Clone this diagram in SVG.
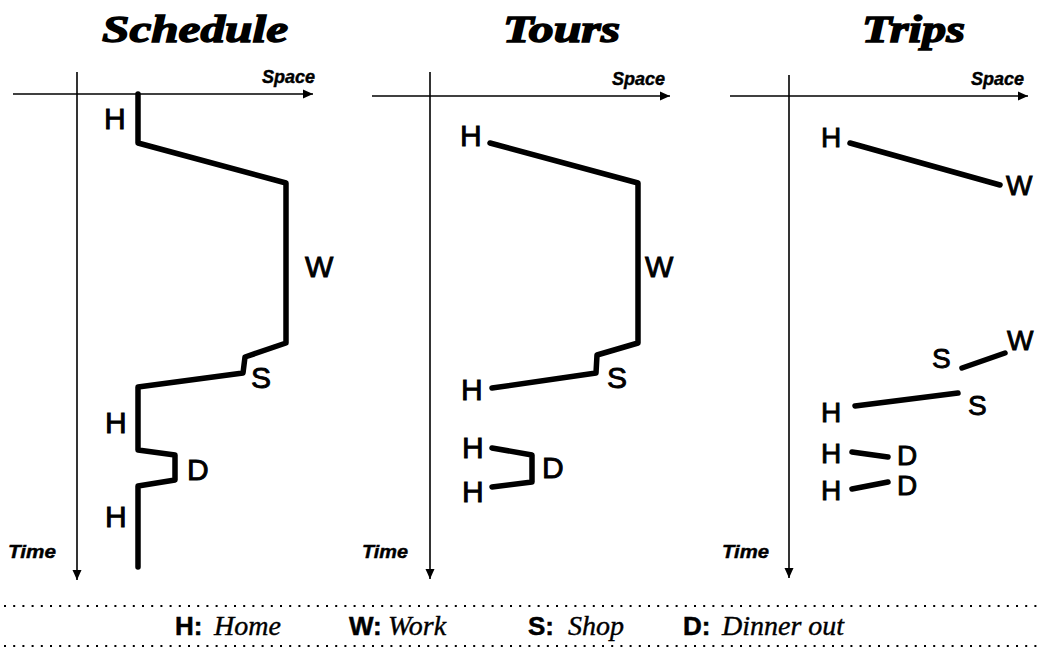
<svg xmlns="http://www.w3.org/2000/svg" width="1042" height="653" viewBox="0 0 1042 653">
<style>
.title{font-family:"Liberation Serif",serif;font-weight:bold;font-style:italic;font-size:38px;fill:#000;stroke:#000;stroke-width:1.4}
.ax{stroke:#000;stroke-width:1.6;fill:none}
.axl{font-family:"Liberation Sans",Arial,sans-serif;font-weight:bold;font-style:italic;font-size:18px;fill:#000;stroke:#000;stroke-width:0.4}
.lbl{font-family:"Liberation Sans",Arial,sans-serif;font-size:30px;fill:#000;stroke:#000;stroke-width:0.9}
.lbl3{font-family:"Liberation Sans",Arial,sans-serif;font-size:28px;fill:#000;stroke:#000;stroke-width:0.9}
.pth{stroke:#000;stroke-width:5.5;fill:none;stroke-linejoin:round;stroke-linecap:round}
.dot{stroke:#000;stroke-width:2.2;stroke-dasharray:2 7.2}
.lk{font-family:"Liberation Sans",Arial,sans-serif;font-weight:bold;font-size:26px;fill:#000;stroke:#000;stroke-width:0.5}
.lv{font-family:"Liberation Serif",serif;font-style:italic;font-size:28px;fill:#000;stroke:#000;stroke-width:0.4}
</style>
<defs>
<marker id="arr" viewBox="0 0 10 10" refX="10" refY="5" markerWidth="10" markerHeight="10" markerUnits="userSpaceOnUse" orient="auto">
<path d="M0,0.5 L10,5 L0,9.5 Z" fill="#000"/>
</marker>
</defs>
<rect width="1042" height="653" fill="#fff"/>

<g id="panel-schedule">
<text class="title" x="102" y="42" textLength="186" lengthAdjust="spacingAndGlyphs">Schedule</text>
<line class="ax" x1="13" y1="94" x2="313" y2="94" marker-end="url(#arr)"/>
<line class="ax" x1="77" y1="72" x2="77" y2="580" marker-end="url(#arr)"/>
<text class="axl" x="262" y="83">Space</text>
<text class="axl" x="8" y="558" textLength="48" lengthAdjust="spacingAndGlyphs">Time</text>
<g id="conn-schedule"><path class="pth" d="M138,94 L138,143 L286,183 L286,343 L245,357 L243,373 L138,387 L138,450 L175,455 L175,480 L138,486 L138,567"/></g>
<g id="s-h1"><text class="lbl" x="104" y="129">H</text></g>
<g id="s-w"><text class="lbl" x="305" y="277">W</text></g>
<g id="s-s"><text class="lbl" x="251" y="388">S</text></g>
<g id="s-h2"><text class="lbl" x="105" y="433">H</text></g>
<g id="s-d"><text class="lbl" x="187" y="480">D</text></g>
<g id="s-h3"><text class="lbl" x="105" y="527">H</text></g>
</g>

<g id="panel-tours">
<text class="title" x="503" y="42" textLength="117" lengthAdjust="spacingAndGlyphs">Tours</text>
<line class="ax" x1="372" y1="96" x2="670" y2="96" marker-end="url(#arr)"/>
<line class="ax" x1="430" y1="72" x2="430" y2="579" marker-end="url(#arr)"/>
<text class="axl" x="612" y="85">Space</text>
<text class="axl" x="362" y="558" textLength="46" lengthAdjust="spacingAndGlyphs">Time</text>
<g id="conn-tours">
<path class="pth" d="M490,143 L638,183 L638,343 L597,355 L596,373 L492,388"/>
<path class="pth" d="M492,448 L532,455 L532,482 L492,487"/>
</g>
<g id="t-h1"><text class="lbl" x="460" y="146">H</text></g>
<g id="t-w"><text class="lbl" x="645" y="277">W</text></g>
<g id="t-s"><text class="lbl" x="607" y="388">S</text></g>
<g id="t-h2"><text class="lbl" x="461" y="400">H</text></g>
<g id="t-h3"><text class="lbl" x="462" y="458">H</text></g>
<g id="t-d"><text class="lbl" x="542" y="478">D</text></g>
<g id="t-h4"><text class="lbl" x="462" y="502">H</text></g>
</g>

<g id="panel-trips">
<text class="title" x="862" y="42" textLength="103" lengthAdjust="spacingAndGlyphs">Trips</text>
<line class="ax" x1="730" y1="96" x2="1028" y2="96" marker-end="url(#arr)"/>
<line class="ax" x1="789" y1="75" x2="789" y2="578" marker-end="url(#arr)"/>
<text class="axl" x="971" y="85">Space</text>
<text class="axl" x="722" y="558" textLength="47" lengthAdjust="spacingAndGlyphs">Time</text>
<g id="conn-trips">
<line class="pth" x1="850" y1="143" x2="1000" y2="185"/>
<line class="pth" x1="962" y1="368" x2="1005" y2="353"/>
<line class="pth" x1="855" y1="406" x2="958" y2="393"/>
<line class="pth" x1="852" y1="452" x2="888" y2="457"/>
<line class="pth" x1="852" y1="489" x2="888" y2="482"/>
</g>
<g id="p-h1"><text class="lbl3" x="821" y="147">H</text></g>
<g id="p-w1"><text class="lbl3" x="1006" y="195">W</text></g>
<g id="p-s1"><text class="lbl3" x="932" y="368">S</text></g>
<g id="p-w2"><text class="lbl3" x="1007" y="350">W</text></g>
<g id="p-h2"><text class="lbl3" x="821" y="422">H</text></g>
<g id="p-s2"><text class="lbl3" x="968" y="415">S</text></g>
<g id="p-h3"><text class="lbl3" x="821" y="463">H</text></g>
<g id="p-d1"><text class="lbl3" x="897" y="465">D</text></g>
<g id="p-h4"><text class="lbl3" x="821" y="500">H</text></g>
<g id="p-d2"><text class="lbl3" x="897" y="495">D</text></g>
</g>

<g id="legend">
<line class="dot" x1="4" y1="606" x2="1040" y2="606"/>
<line class="dot" x1="4" y1="646" x2="1040" y2="646"/>
<text class="lk" x="175" y="635">H:</text><text class="lv" x="214" y="635">Home</text>
<text class="lk" x="349" y="635">W:</text><text class="lv" x="388" y="635">Work</text>
<text class="lk" x="528" y="635">S:</text><text class="lv" x="568" y="635">Shop</text>
<text class="lk" x="683" y="635">D:</text><text class="lv" x="722" y="635">Dinner out</text>
</g>
</svg>
